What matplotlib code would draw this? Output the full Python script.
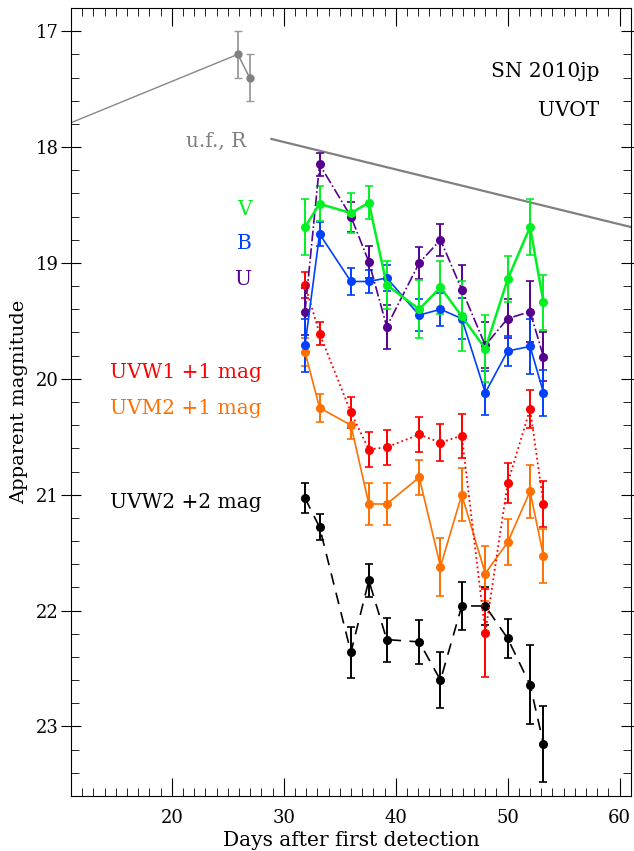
import matplotlib
matplotlib.use('Agg')
import matplotlib.pyplot as plt
from matplotlib.ticker import MultipleLocator

plt.rcParams['font.family'] = ['DejaVu Serif']

# days after first detection (UVOT epochs)
days = [31.9, 33.2, 36.0, 37.6, 39.2, 42.1, 44.0, 45.9, 48.0, 50.0, 52.0, 53.2]

# magnitudes per filter (UV ones already shifted)
v_mag = [18.69, 18.49, 18.57, 18.48, 19.19, 19.40, 19.21, 19.46, 19.74, 19.14, 18.69, 19.34]
v_err = [0.24, 0.15, 0.17, 0.14, 0.21, 0.25, 0.23, 0.30, 0.29, 0.20, 0.24, 0.24]
b_mag = [19.71, 18.75, 19.16, 19.16, 19.13, 19.45, 19.40, 19.48, 20.12, 19.76, 19.72, 20.12]
b_err = [0.23, 0.10, 0.12, 0.10, 0.11, 0.14, 0.14, 0.18, 0.19, 0.13, 0.24, 0.20]
u_mag = [19.42, 18.15, 18.60, 18.99, 19.55, 19.00, 18.80, 19.23, 19.71, 19.48, 19.42, 19.81]
u_err = [0.20, 0.10, 0.13, 0.14, 0.19, 0.14, 0.14, 0.21, 0.20, 0.17, 0.26, 0.21]
uvw1_mag = [19.19, 19.61, 20.29, 20.61, 20.59, 20.48, 20.55, 20.49, 22.19, 20.90, 20.26, 21.08]
uvw1_err = [0.11, 0.10, 0.13, 0.15, 0.15, 0.15, 0.16, 0.19, 0.38, 0.17, 0.16, 0.20]
uvm2_mag = [19.77, 20.25, 20.40, 21.08, 21.08, 20.85, 21.62, 21.00, 21.68, 21.41, 20.97, 21.53]
uvm2_err = [0.12, 0.12, 0.12, 0.18, 0.18, 0.15, 0.25, 0.23, 0.24, 0.20, 0.23, 0.23]
uvw2_mag = [21.03, 21.28, 22.36, 21.74, 22.25, 22.27, 22.60, 21.96, 21.96, 22.24, 22.64, 23.15]
uvw2_err = [0.13, 0.11, 0.22, 0.14, 0.19, 0.19, 0.24, 0.21, 0.16, 0.17, 0.34, 0.33]

# unfiltered / R early points and the two grey guide lines
r_days = [25.9, 26.95]
r_mag = [17.20, 17.40]
r_err = [0.20, 0.20]
early_line_days = [11.0, 25.9]
early_line_mag = [17.79, 17.20]
late_line_days = [28.9, 61.0]
late_line_mag = [17.93, 18.69]

fig = plt.figure(figsize=(6.34, 8.51), dpi=100)
ax = fig.add_axes([0.112, 0.0646, 0.883, 0.926])

ax.plot(early_line_days, early_line_mag, color='#888888', lw=1.0)
ax.plot(late_line_days, late_line_mag, color='#808080', lw=1.6)
ax.errorbar(r_days, r_mag, yerr=r_err, color='#808080', ecolor='#999999',
            marker='o', ms=5, lw=1.0, capsize=3, elinewidth=1.3)

series = [
    (uvw2_mag, uvw2_err, 'black', (0, (7, 5)), 1.2),
    (uvm2_mag, uvm2_err, '#ff7000', '-', 1.2),
    (uvw1_mag, uvw1_err, '#ff0000', ':', 1.3),
    (u_mag, u_err, '#55008f', '-.', 1.2),
    (b_mag, b_err, '#0040ff', '-', 1.2),
    (v_mag, v_err, '#00f022', '-', 1.8),
]
for mag, err, col, ls, lw in series:
    ax.errorbar(days, mag, yerr=err, color=col, marker='o', ms=5.5,
                ls=ls, lw=lw, capsize=3, elinewidth=1.4, capthick=1.2)

ax.set_xlim(11, 61)
ax.set_ylim(23.6, 16.8)
ax.xaxis.set_major_locator(MultipleLocator(10))
ax.xaxis.set_minor_locator(MultipleLocator(1))
ax.yaxis.set_major_locator(MultipleLocator(1))
ax.yaxis.set_minor_locator(MultipleLocator(0.2))
ax.tick_params(which='both', direction='in', top=True, right=True, labelsize=13)
ax.tick_params(which='major', length=13)
ax.tick_params(which='minor', length=6)
ax.tick_params(axis='y', which='major', direction='inout', length=14, pad=2)
ax.tick_params(axis='x', which='major', pad=9)

ax.set_xlabel('Days after first detection', fontsize=14.5)
ax.set_ylabel('Apparent magnitude', fontsize=14)
ax.xaxis.set_label_coords(0.5, -0.044)
ax.yaxis.set_label_coords(-0.076, 0.5)

# annotations
t = ax.transAxes
fs = 14.5
ax.text(0.943, 0.92, 'SN 2010jp', transform=t, ha='right', va='center', fontsize=fs)
ax.text(0.943, 0.870, 'UVOT', transform=t, ha='right', va='center', fontsize=fs)
ax.text(0.260, 0.831, 'u.f., R', transform=t, ha='center', va='center', fontsize=fs, color='#808080')
ax.text(0.309, 0.744, 'V', transform=t, ha='center', va='center', fontsize=fs, color='#00f022')
ax.text(0.309, 0.701, 'B', transform=t, ha='center', va='center', fontsize=fs, color='#0040ff')
ax.text(0.309, 0.656, 'U', transform=t, ha='center', va='center', fontsize=fs, color='#55008f')
ax.text(0.205, 0.538, 'UVW1 +1 mag', transform=t, ha='center', va='center', fontsize=fs, color='#ff0000')
ax.text(0.205, 0.492, 'UVM2 +1 mag', transform=t, ha='center', va='center', fontsize=fs, color='#ff7000')
ax.text(0.205, 0.373, 'UVW2 +2 mag', transform=t, ha='center', va='center', fontsize=fs, color='black')

fig.savefig('out.png', dpi=100)
